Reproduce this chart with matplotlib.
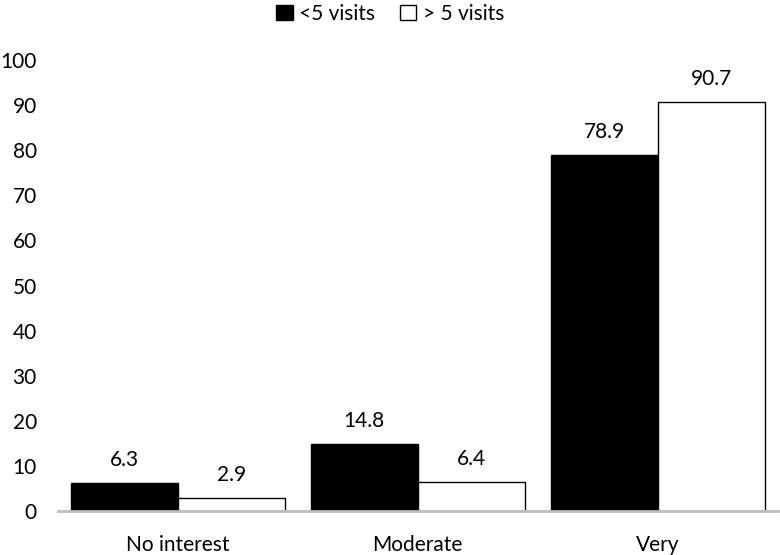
import numpy as np
import matplotlib.pyplot as plt

categories = ["No interest", "Moderate", "Very"]
series_names = ["<5 visits", "> 5 visits"]
less5 = [6.3, 14.8, 78.9]
more5 = [2.9, 6.4, 90.7]

plt.rcParams['font.family'] = ['Lato', 'DejaVu Sans']

fig = plt.figure(figsize=(7.8, 5.55), dpi=100)
ax = fig.add_axes([0.074, 0.079, 0.923, 0.813])

x = np.arange(len(categories))
w = 0.446
b1 = ax.bar(x - w / 2, less5, w, color='black', edgecolor='black', linewidth=1, label=series_names[0])
b2 = ax.bar(x + w / 2, more5, w, color='white', edgecolor='black', linewidth=1, label=series_names[1])

for bars, vals in [(b1, less5), (b2, more5)]:
    for r, v in zip(bars, vals):
        ax.text(r.get_x() + r.get_width() / 2, v + 5.1, f"{v:.1f}",
                ha='center', va='center', fontsize=15)

ax.set_xlim(-0.5, 2.5)
ax.set_ylim(0, 100)
ax.set_yticks(range(0, 101, 10))
ax.set_xticks(x)
ax.set_xticklabels(categories)
ax.tick_params(axis='both', length=0, labelsize=15)
ax.tick_params(axis='x', pad=17)
ax.tick_params(axis='y', pad=15)
for s in ['top', 'right', 'left']:
    ax.spines[s].set_visible(False)
ax.spines['bottom'].set_color('#bfbfbf')
ax.spines['bottom'].set_linewidth(2)

fig.legend(loc='upper center', bbox_to_anchor=(0.5, 1.027), ncol=2, frameon=False,
           fontsize=15, handlelength=0.8, handleheight=0.8, handletextpad=0.3,
           columnspacing=1.2)

fig.savefig('out.png', dpi=100)
